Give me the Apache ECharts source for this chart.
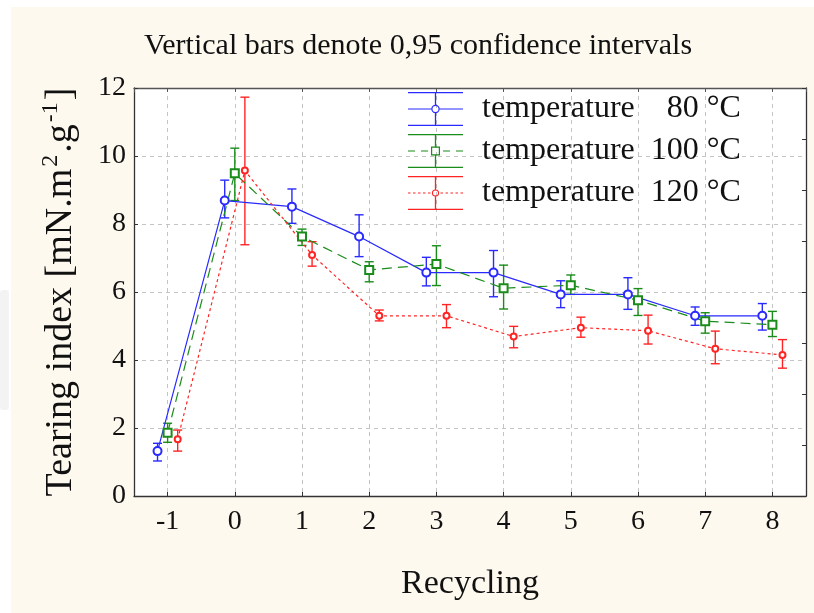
<!DOCTYPE html>
<html>
<head>
<meta charset="utf-8">
<script src="https://cdn.jsdelivr.net/npm/echarts@6/dist/echarts.min.js"></script>
<style>
html,body{margin:0;padding:0;background:#fff;}
#c{width:814px;height:613px;}
</style>
</head>
<body>
<div id="c"></div>
<script>
// ---- data ----
const recycling = [-1, 0, 1, 2, 3, 4, 5, 6, 7, 8];
const seriesNames = ['temperature    80 °C', 'temperature  100 °C', 'temperature  120 °C'];

const mean80 = [1.32, 8.69, 8.51, 7.63, 6.57, 6.57, 5.93, 5.93, 5.30, 5.30];
const low80  = [1.03, 8.18, 8.02, 7.04, 6.18, 5.86, 5.54, 5.49, 5.02, 4.88];
const high80 = [1.55, 9.29, 9.03, 8.27, 7.02, 7.22, 6.33, 6.42, 5.56, 5.66];

const mean100 = [1.86, 9.49, 7.63, 6.65, 6.82, 6.11, 6.20, 5.76, 5.14, 5.04];
const low100  = [1.58, 8.69, 7.37, 6.30, 6.19, 5.50, 5.93, 5.31, 4.79, 4.69];
const high100 = [2.14, 10.23, 7.85, 6.89, 7.36, 6.79, 6.50, 6.10, 5.39, 5.43];

const mean120 = [1.67, 9.57, 7.09, 5.30, 5.30, 4.69, 4.95, 4.86, 4.33, 4.15];
const low120  = [1.32, 7.39, 6.76, 5.15, 4.95, 4.36, 4.67, 4.47, 3.89, 3.76];
const high120 = [1.94, 11.73, 7.48, 5.47, 5.63, 4.99, 5.26, 5.32, 4.85, 4.60];

const yTicks = [0, 2, 4, 6, 8, 10, 12];

// ---- styles ----
const FONT = 'Liberation Serif';
const colors = ['#2a2aff', '#1a8c1a', '#ff2424'];
const dodge = [-0.15, 0, 0.15];          // horizontal offset of each group (style)
const lineTypes = ['solid', [10, 6], [3, 3]];
const symbols = ['emptyCircle', 'emptyRect', 'emptyCircle'];
const symbolSizes = [8, 8, 6];
const means = [mean80, mean100, mean120];
const lows = [low80, low100, low120];
const highs = [high80, high100, high120];

const legendIcons = [
  'path://M0 0H55V1.3H0Z M0 32.7H55V34H0Z M26.85 1.3H28.15V12.8H26.85Z M26.85 21.2H28.15V32.7H26.85Z M0 16.4H23.3V17.6H0Z M31.7 16.4H55V17.6H31.7Z M23.3 17A4.2 4.2 0 1 1 31.7 17A4.2 4.2 0 1 1 23.3 17Z M24.5 17A3 3 0 1 0 30.5 17A3 3 0 1 0 24.5 17Z',
  'path://M0 0H55V1.3H0Z M0 32.7H55V34H0Z M26.85 1.3H28.15V12.5H26.85Z M26.85 21.5H28.15V32.7H26.85Z M0 16.4H7V17.6H0Z M13 16.4H20V17.6H13Z M35 16.4H42V17.6H35Z M48 16.4H55V17.6H48Z M23 12.5H32V21.5H23Z M24.2 13.7V20.3H30.8V13.7Z',
  'path://M0 0H55V1.3H0Z M0 32.7H55V34H0Z M26.85 1.3H28.15V13.4H26.85Z M26.85 20.6H28.15V32.7H26.85Z M0 16.4H2.5V17.6H0Z M5 16.4H7.5V17.6H5Z M10 16.4H12.5V17.6H10Z M15 16.4H17.5V17.6H15Z M20 16.4H22.5V17.6H20Z M32.5 16.4H35V17.6H32.5Z M37.5 16.4H40V17.6H37.5Z M42.5 16.4H45V17.6H42.5Z M47.5 16.4H50V17.6H47.5Z M52.5 16.4H55V17.6H52.5Z M23.9 17A3.6 3.6 0 1 1 31.1 17A3.6 3.6 0 1 1 23.9 17Z M25 17A2.5 2.5 0 1 0 30 17A2.5 2.5 0 1 0 25 17Z'
];

const lineSeries = seriesNames.map((name, k) => ({
  name: name,
  type: 'line',
  xAxisIndex: 0, yAxisIndex: 0,
  data: recycling.map((x, i) => [x + dodge[k], means[k][i]]),
  symbol: symbols[k],
  symbolSize: symbolSizes[k],
  z: 5,
  lineStyle: { color: colors[k], width: 1.2, type: lineTypes[k] },
  itemStyle: { color: colors[k], borderWidth: 1.3 }
}));

const errSeries = seriesNames.map((name, k) => ({
  name: name,
  type: 'custom',
  xAxisIndex: 0, yAxisIndex: 0,
  z: 3,
  data: recycling.map((x, i) => [x + dodge[k], lows[k][i], highs[k][i]]),
  encode: { x: 0, y: [1, 2] },
  renderItem: function (params, api) {
    const x = api.value(0);
    const pl = api.coord([x, api.value(1)]);
    const ph = api.coord([x, api.value(2)]);
    const w = 4.5;
    const st = { stroke: colors[k], lineWidth: 1.4 };
    return {
      type: 'group',
      children: [
        { type: 'line', shape: { x1: pl[0], y1: pl[1], x2: ph[0], y2: ph[1] }, style: st },
        { type: 'line', shape: { x1: ph[0] - w, y1: ph[1], x2: ph[0] + w, y2: ph[1] }, style: st },
        { type: 'line', shape: { x1: pl[0] - w, y1: pl[1], x2: pl[0] + w, y2: pl[1] }, style: st }
      ]
    };
  }
}));

const axisCol = '#333';
const gridLine = { show: true, lineStyle: { color: '#c4c4c4', width: 1, type: [4, 4] } };
const labelStyle = { fontFamily: FONT, fontSize: 28, color: '#111' };

const chart = echarts.init(document.getElementById('c'), null, { renderer: 'canvas' });
chart.setOption({
  animation: false,
  backgroundColor: '#fdf9ef',
  title: {
    text: 'Vertical bars denote 0,95 confidence intervals',
    left: 418, top: 31, textAlign: 'center', padding: 0,
    textStyle: { fontFamily: FONT, fontSize: 30, fontWeight: 'normal', color: '#111' }
  },
  graphic: [
    { type: 'rect', z: -10, shape: { x: 0, y: 0, width: 814, height: 7 }, style: { fill: '#ffffff' } },
    { type: 'rect', z: -10, shape: { x: 0, y: 0, width: 11, height: 613 }, style: { fill: '#ffffff' } },
    { type: 'rect', z: -9, shape: { x: 0, y: 290, width: 9, height: 120, r: 3 }, style: { fill: '#f3f3f3' } }
  ],
  grid: { left: 134, right: 8, top: 88, bottom: 117, show: true, backgroundColor: '#ffffff', borderWidth: 0 },
  legend: {
    orient: 'vertical', left: 408, top: 92, padding: 0,
    itemWidth: 55, itemHeight: 34, itemGap: 8,
    selectedMode: false,
    textStyle: { fontFamily: FONT, fontSize: 32, color: '#111', padding: [0, 0, 0, 14] },
    data: seriesNames.map((n, k) => ({ name: n, icon: legendIcons[k], itemStyle: { color: colors[k], borderWidth: 0 } }))
  },
  xAxis: [
    {
      type: 'value', position: 'bottom', min: -1.5, max: 8.5, splitNumber: 10,
      axisLine: { show: true, onZero: false, lineStyle: { color: axisCol, width: 1.3 } },
      axisTick: { show: true, inside: true, length: 4, lineStyle: { color: axisCol } },
      axisLabel: Object.assign({ margin: 12, showMinLabel: false, showMaxLabel: false,
        formatter: v => (recycling.indexOf(v) >= 0 ? String(v) : '') }, labelStyle),
      splitLine: gridLine,
      name: 'Recycling', nameLocation: 'middle', nameGap: 71,
      nameTextStyle: { fontFamily: FONT, fontSize: 34, color: '#111' }
    },
    {
      type: 'value', position: 'top', min: -1.5, max: 8.5, splitNumber: 10,
      axisLine: { show: true, onZero: false, lineStyle: { color: '#555', width: 1.3 } },
      axisTick: { show: true, inside: true, length: 4, lineStyle: { color: '#555' } },
      axisLabel: { show: false }, splitLine: { show: false }
    }
  ],
  yAxis: [
    {
      type: 'value', position: 'left', min: yTicks[0], max: yTicks[yTicks.length - 1], interval: 2,
      axisLine: { show: true, onZero: false, lineStyle: { color: axisCol, width: 1.3 } },
      axisTick: { show: true, inside: true, length: 4, lineStyle: { color: axisCol } },
      axisLabel: Object.assign({ margin: 8 }, labelStyle),
      splitLine: gridLine,
      name: 'Tearing index [mN.m{sup|2}.g{sup|-1}]',
      nameLocation: 'middle', nameGap: 51,
      nameTextStyle: {
        fontFamily: FONT, fontSize: 38, color: '#111',
        rich: { sup: { fontFamily: FONT, fontSize: 24, color: '#111', padding: [0, 2, 20, 2] } }
      }
    },
    {
      type: 'value', position: 'right', min: 0, max: 12, interval: 1.5,
      axisLine: { show: true, onZero: false, lineStyle: { color: axisCol, width: 1.3 } },
      axisTick: { show: true, inside: true, length: 4, lineStyle: { color: axisCol } },
      axisLabel: { show: false }, splitLine: { show: false }
    }
  ],
  series: lineSeries.concat(errSeries)
});
</script>
</body>
</html>
